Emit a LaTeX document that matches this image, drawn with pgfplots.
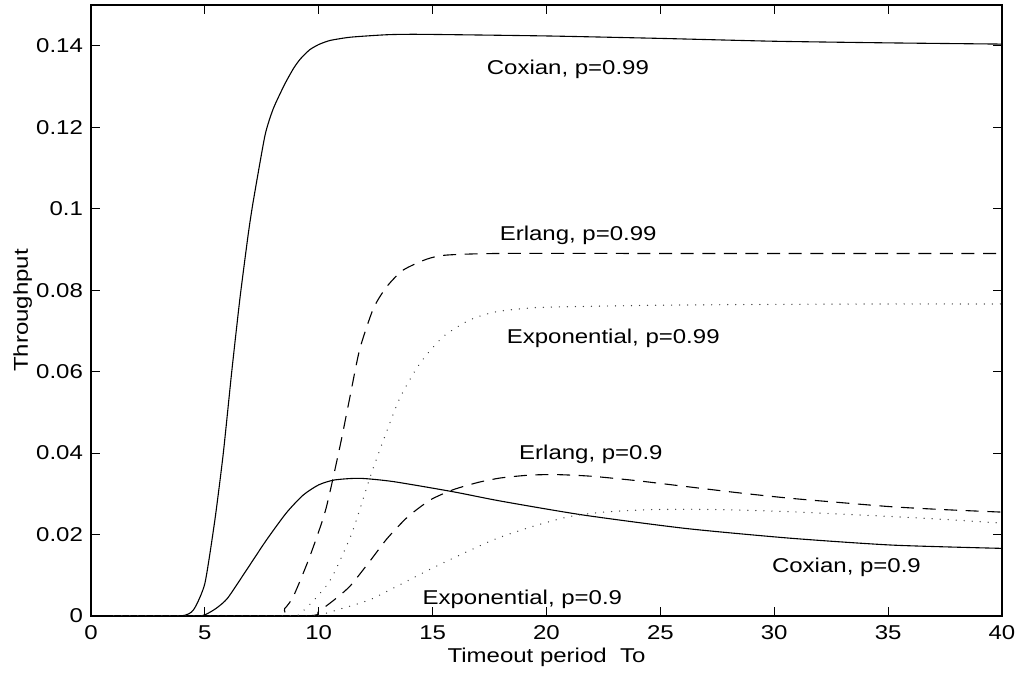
\documentclass[border=0pt]{standalone}
\usepackage{fontspec}
\setmainfont{Liberation Sans}[FakeStretch=1.2]
\usepackage{pgfplots}
\pgfplotsset{compat=1.18}
\begin{document}
\begin{tikzpicture}
\begin{axis}[
  at={(0,0)}, anchor=south west,
  scale only axis,
  width=455.5pt, height=305.5pt,
  xmin=0, xmax=40, ymin=0, ymax=0.15,
  xtick={0,5,10,15,20,25,30,35,40},
  ytick={0,0.02,0.04,0.06,0.08,0.1,0.12,0.14},
  yticklabels={0,0.02,0.04,0.06,0.08,0.1,0.12,0.14},
  scaled y ticks=false,
  tick align=inside,
  xtick pos=both, ytick pos=both,
  xticklabel pos=lower, yticklabel pos=left,
  major tick length=4.5pt,
  minor tick num=0,
  axis line style={line width=0.6pt},
  every tick/.style={line width=0.5pt, black},
  /pgf/number format/assume math mode=true,
  tick label style={font=\fontsize{10}{12}\selectfont},
  xticklabel style={anchor=base, yshift=-12pt},
  yticklabel style={anchor=east, xshift=-0.5pt},
  xlabel={Timeout period\ \ To},
  ylabel={Throughput},
  label style={font=\fontsize{10}{12}\selectfont},
  every axis x label/.style={at={([yshift=-23.5pt]axis description cs:0.5,0)}, anchor=base},
  every axis y label/.style={at={([xshift=-31.5pt]axis description cs:0,0.5)}, rotate=90, anchor=base},
  clip=true,
]
% Coxian p=0.99
\addplot[black, line width=0.55pt, smooth, tension=0.35] coordinates {
(1,0) (3.9,0) (4.5,0.0015) (5.0,0.008) (5.44,0.0236) (5.81,0.040) (6.18,0.060) (6.54,0.078) (6.91,0.094) (7.13,0.102) (7.64,0.118) (8.0,0.1245) (8.5,0.1305) (8.9,0.1345) (9.2,0.1368) (9.6,0.1390) (10.0,0.1403) (10.5,0.1413) (11.4,0.1421) (13,0.1427) (14.5,0.1428) (20,0.1424) (25,0.1418) (30,0.1411) (35,0.1407) (40,0.1404)};
% Coxian p=0.9
\addplot[black, line width=0.55pt, smooth, tension=0.4] coordinates {
(1,0) (4.5,0) (5,0.0003) (5.5,0.0019) (6,0.0044) (6.83,0.0113) (7.71,0.0187) (8.59,0.0254) (9.32,0.0297) (10.0,0.0322) (10.7,0.0334) (11.8,0.0338) (13.27,0.033) (15.9,0.0305) (18,0.0282) (21.6,0.0248) (26.1,0.0215) (30.7,0.0191) (35.2,0.0174) (40,0.0166)};
% Erlang p=0.99
\addplot[black, line width=0.55pt, dash pattern=on 6.5pt off 4.3pt, smooth, tension=0.4] coordinates {
(1,0) (8.0,0) (8.5,0.0018) (8.9,0.005) (9.6,0.0145) (10.3,0.026) (10.93,0.0416) (11.37,0.0538) (11.8,0.0655) (12.4,0.0755) (12.98,0.0808) (13.7,0.0849) (14.74,0.0876) (15.6,0.0886) (17.95,0.089) (25,0.089) (40,0.089)};
% Erlang p=0.9
\addplot[black, line width=0.55pt, dash pattern=on 6.5pt off 4.3pt, smooth, tension=0.4] coordinates {
(1,0) (9.3,0) (10,0.0012) (10.8,0.0045) (11.4,0.0075) (12.25,0.0135) (13.0,0.019) (13.9,0.0243) (14.9,0.0285) (15.9,0.031) (17,0.0328) (18,0.0339) (19.3,0.0346) (20.5,0.0347) (22,0.0343) (24,0.0332) (26.1,0.0318) (28.5,0.0302) (30.7,0.0289) (33,0.0278) (35.2,0.0268) (37.5,0.0261) (40,0.0255)};
% Exponential p=0.99
\addplot[black!75, line width=0.7pt, line cap=round, dash pattern=on 0.01pt off 4pt, smooth, tension=0.4] coordinates {
(1,0) (8.5,0) (9.3,0.0012) (10.35,0.0075) (10.8,0.012) (11.5,0.021) (12.25,0.034) (12.83,0.043) (13.56,0.0535) (14.44,0.062) (15.47,0.0686) (16.64,0.0727) (17.8,0.0747) (19.5,0.0757) (21.7,0.0760) (25,0.0763) (30,0.0765) (35,0.0766) (40,0.0766)};
% Exponential p=0.9
\addplot[black!75, line width=0.7pt, line cap=round, dash pattern=on 0.01pt off 4pt, smooth, tension=0.4] coordinates {
(1,0) (9.5,0) (10,0.0002) (11,0.0018) (12.25,0.0040) (13.5,0.0075) (14.9,0.0115) (16.4,0.0155) (17.8,0.019) (19.4,0.022) (21,0.0244) (22.5,0.0255) (24.5,0.0261) (26.5,0.0262) (28.5,0.0260) (30.7,0.0256) (33,0.025) (35.2,0.0244) (37.5,0.0237) (40,0.0228)};
\begin{scope}[every node/.style={font=\fontsize{10}{12}\selectfont, anchor=base, inner sep=0pt}]
\node at (axis cs:20.94,0.133) {Coxian, p=0.99};
\node at (axis cs:21.39,0.0923) {Erlang, p=0.99};
\node at (axis cs:22.93,0.067) {Exponential, p=0.99};
\node at (axis cs:21.95,0.0383) {Erlang, p=0.9};
\node at (axis cs:33.17,0.0108) {Coxian, p=0.9};
\node at (axis cs:18.94,0.0029) {Exponential, p=0.9};
\end{scope}
\end{axis}
\pgfresetboundingbox
\useasboundingbox (-45.5pt,-29.5pt) rectangle (464pt,308pt);
\end{tikzpicture}
\end{document}
